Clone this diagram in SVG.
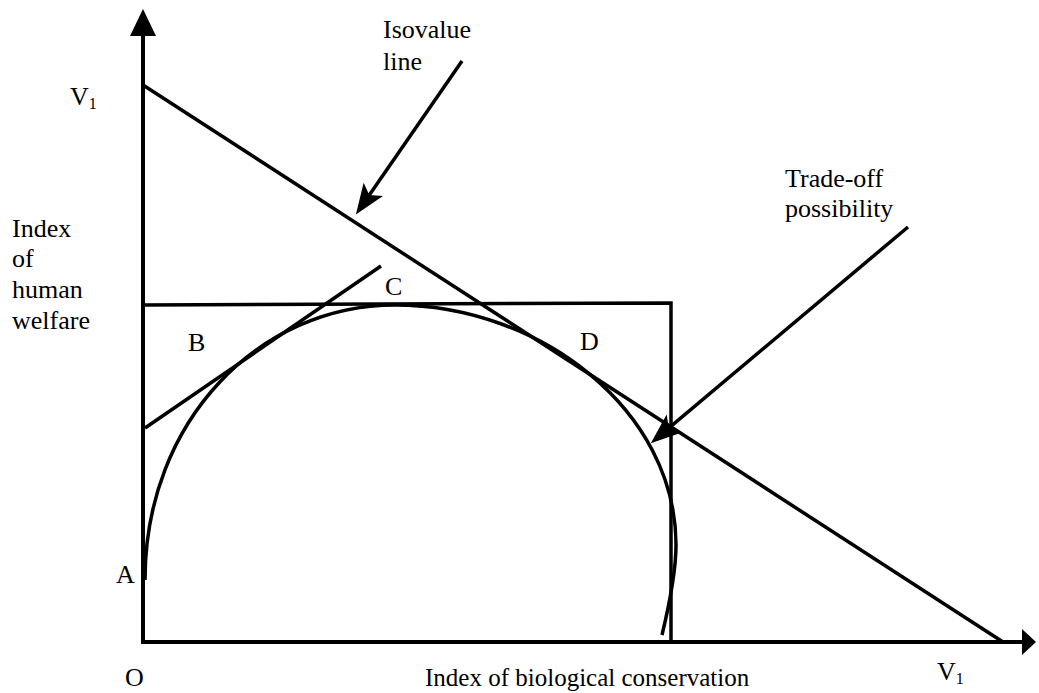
<svg xmlns="http://www.w3.org/2000/svg" width="1039" height="693" viewBox="0 0 1039 693">
<style>
  .ln { stroke:#000; stroke-width:3.5; fill:none; }
  .ax { stroke:#000; stroke-width:4; fill:none; }
  .t { font-family:"Liberation Serif","Times New Roman",serif; font-size:26px; fill:#000; }
  .sub { font-size:16px; }
</style>
<defs>
  <marker id="ptr" markerUnits="userSpaceOnUse" markerWidth="40" markerHeight="30" viewBox="-20 -12 34 24" refX="0" refY="0" orient="auto" overflow="visible">
    <path d="M10,0 L-16,-10 L-10,0 L-16,10 Z" fill="#000"/>
  </marker>
</defs>
<rect width="1039" height="693" fill="#fff"/>
<g id="axes">
  <line class="ax" x1="143" y1="30" x2="143" y2="642"/>
  <polygon points="143,9 130,36 156,36" fill="#000"/>
  <line class="ax" x1="141" y1="642" x2="1024" y2="642"/>
  <polygon points="1036,642 1022,629 1022,655" fill="#000"/>
</g>
<g id="isovalue-line">
  <line class="ln" x1="143" y1="85" x2="1003" y2="642"/>
</g>
<g id="frontier-box">
  <polyline class="ln" points="143,305 671,303 671,642"/>
</g>
<g id="tangent-B">
  <line class="ln" x1="145" y1="428" x2="381" y2="266"/>
</g>
<g id="possibility-curve">
  <path class="ln" d="M145,580 C145,420 260,305 395,305 C540,305 676,410 676,545 C676,575 668,610 662,635"/>
</g>
<g id="connectors">
  <line class="ln" x1="462" y1="61" x2="362.6" y2="204.8" marker-end="url(#ptr)"/>
  <line class="ln" x1="908" y1="227" x2="659.8" y2="435.6" marker-end="url(#ptr)"/>
</g>
<g id="labels">
  <text class="t" x="70" y="105">V<tspan class="sub" dy="4">1</tspan></text>
  <text class="t" x="383" y="38">Isovalue</text>
  <text class="t" x="383" y="70">line</text>
  <text class="t" x="785" y="187">Trade-off</text>
  <text class="t" x="785" y="217">possibility</text>
  <text class="t" x="12" y="237">Index</text>
  <text class="t" x="12" y="267">of</text>
  <text class="t" x="12" y="298">human</text>
  <text class="t" x="12" y="329">welfare</text>
  <text class="t" x="188" y="351">B</text>
  <text class="t" x="385" y="295">C</text>
  <text class="t" x="580" y="350">D</text>
  <text class="t" x="116" y="583">A</text>
  <text class="t" x="125" y="686">O</text>
  <text class="t" x="425" y="686" style="font-size:25px">Index of biological conservation</text>
  <text class="t" x="937" y="680">V<tspan class="sub" dy="4">1</tspan></text>
</g>
</svg>
